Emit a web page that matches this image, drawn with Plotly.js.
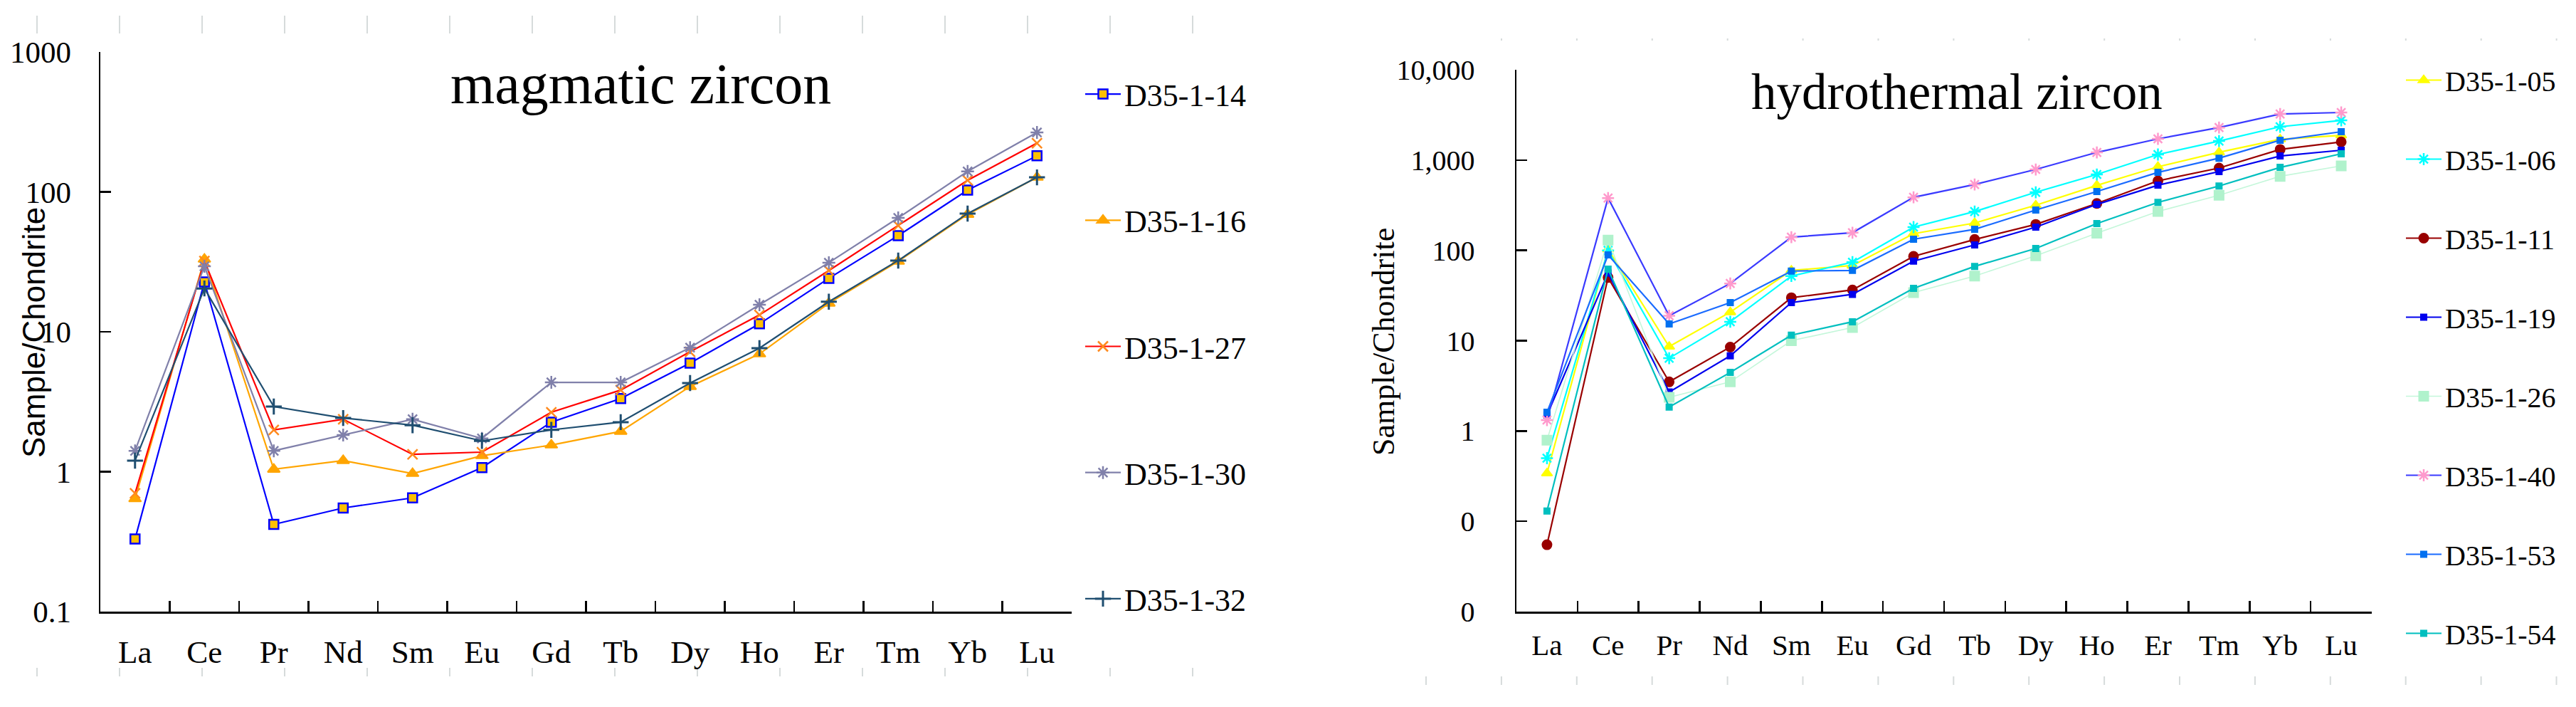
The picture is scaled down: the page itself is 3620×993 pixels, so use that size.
<!DOCTYPE html>
<html>
<head>
<meta charset="utf-8">
<script src="https://cdn.plot.ly/plotly-3.0.1.min.js"></script>
<style>
  html, body { margin: 0; padding: 0; background: #fff; }
  #chart { width: 3620px; height: 993px; }
</style>
</head>
<body>
<div id="chart"></div>
<script>
// chondrite normalised REE patterns, magmatic vs hydrothermal zircon

var ree = ["La", "Ce", "Pr", "Nd", "Sm", "Eu", "Gd", "Tb", "Dy", "Ho", "Er", "Tm", "Yb", "Lu"];

// magmatic zircon
var d35_1_14 = [0.33, 22.7, 0.42, 0.55, 0.65, 1.07, 2.26, 3.33, 5.97, 11.4, 24.1, 48.7, 103, 181];
var d35_1_16 = [0.64, 33, 1.04, 1.2, 0.97, 1.30, 1.55, 1.94, 4.06, 6.95, 16.0, 31.9, 69, 127];
var d35_1_27 = [0.70, 32, 1.99, 2.37, 1.33, 1.38, 2.66, 3.83, 7.2, 13.2, 27.4, 57.4, 121, 223];
var d35_1_30 = [1.41, 29.4, 1.41, 1.83, 2.37, 1.73, 4.35, 4.35, 7.7, 15.6, 31.2, 65.2, 140, 266];
var d35_1_32 = [1.2, 20.4, 2.92, 2.42, 2.15, 1.66, 1.99, 2.26, 4.3, 7.64, 16.4, 32.3, 70, 127];

// hydrothermal zircon
var d35_1_05 = [0.34, 103, 8.6, 20.7, 60, 68, 153, 201, 316, 525, 843, 1220, 1700, 1880];
var d35_1_06 = [0.50, 100, 6.4, 16.2, 52, 74, 181, 269, 440, 693, 1153, 1626, 2340, 2750];
var d35_1_11 = [0.055, 50, 3.5, 8.5, 29.9, 36.5, 86, 132, 194, 331, 589, 817, 1312, 1590];
var d35_1_19 = [1.5, 56, 2.7, 6.8, 26.4, 32.6, 76, 115, 181, 323, 527, 745, 1110, 1286];
var d35_1_26 = [0.79, 130, 2.36, 3.5, 10, 14, 34, 52, 87, 155, 270, 408, 661, 861];
var d35_1_40 = [1.32, 380, 18.9, 43, 140, 157, 387, 537, 787, 1216, 1718, 2290, 3240, 3365];
var d35_1_53 = [1.61, 89, 15.3, 26.4, 59, 60, 133, 171, 280, 449, 731, 1050, 1660, 2060];
var d35_1_54 = [0.13, 62, 1.84, 4.45, 11.5, 16.2, 38, 66.5, 105, 198, 340, 516, 830, 1175];

// tick labels
var leftTickVals = [0.1, 1, 10, 100, 1000];
var leftTickText = ["0.1", "1", "10", "100", "1000"];
var rightTickVals = [0.01, 0.1, 1, 10, 100, 1000, 10000];
var rightTickText = ["0", "0", "1", "10", "100", "1,000", "10,000"];

var W = 3620, H = 993;
var serif = "Liberation Serif";

function px(x) { return x / W; }
function py(y) { return (H - y) / H; }

function reeTrace(name, values, lineColor, symbol, markerColor, size, opts) {
  opts = opts || {};
  return {
    name: name,
    type: "scatter",
    mode: "lines+markers",
    x: ree,
    y: values,
    xaxis: opts.right ? "x2" : "x",
    yaxis: opts.right ? "y2" : "y",
    legend: opts.right ? "legend2" : "legend",
    legendgroup: name,
    line: {color: lineColor, width: opts.width || 2.2},
    marker: {
      symbol: symbol,
      size: size,
      color: markerColor,
      line: {color: opts.edge || markerColor, width: opts.edgeWidth || 2}
    },
    hoverinfo: "name+x+y"
  };
}

var traces = [
  reeTrace("D35-1-14", d35_1_14, "#0000FF", "square", "#FFC000", 13, {edge: "#0000FF", edgeWidth: 2.5}),
  reeTrace("D35-1-16", d35_1_16, "#FFA500", "triangle-up", "#FFA500", 15),
  reeTrace("D35-1-27", d35_1_27, "#FF0000", "x-thin-open", "#FF8A1E", 14, {edgeWidth: 2.5}),
  reeTrace("D35-1-30", d35_1_30, "#8080AA", "asterisk-open", "#8080AA", 15, {edgeWidth: 2.5}),
  reeTrace("D35-1-32", d35_1_32, "#1F4E70", "cross-thin-open", "#1F4E70", 16, {edgeWidth: 3}),

  reeTrace("D35-1-05", d35_1_05, "#FFFF00", "triangle-up", "#FFFF00", 13, {right: true}),
  reeTrace("D35-1-06", d35_1_06, "#00FFFF", "asterisk-open", "#00FFFF", 14, {right: true, edgeWidth: 2.5}),
  reeTrace("D35-1-11", d35_1_11, "#990000", "circle", "#990000", 13, {right: true}),
  reeTrace("D35-1-19", d35_1_19, "#0000EE", "square", "#0000EE", 8, {right: true}),
  reeTrace("D35-1-26", d35_1_26, "#C4F7DA", "square", "#B0F2CC", 13, {right: true, width: 1.6}),
  reeTrace("D35-1-40", d35_1_40, "#3A3AFF", "asterisk-open", "#FF99CC", 14, {right: true, edgeWidth: 2.5}),
  reeTrace("D35-1-53", d35_1_53, "#1A6BFF", "square", "#0070F0", 8, {right: true}),
  reeTrace("D35-1-54", d35_1_54, "#00BFBF", "square", "#00BFBF", 8, {right: true})
];

function catAxis(domain, anchor, size, standoff) {
  return {
    domain: domain,
    anchor: anchor,
    type: "category",
    range: [-0.5, 13.5],
    showgrid: false,
    zeroline: false,
    showline: true,
    linecolor: "#000",
    linewidth: 2.5,
    ticks: "inside",
    tickson: "boundaries",
    ticklen: 15,
    tickwidth: 2.5,
    tickcolor: "#000",
    ticklabelstandoff: standoff,
    tickfont: {family: serif, size: size, color: "#000"}
  };
}

function logAxis(domain, anchor, range, vals, text, size, standoff) {
  return {
    domain: domain,
    anchor: anchor,
    type: "log",
    range: range,
    showgrid: false,
    zeroline: false,
    showline: true,
    linecolor: "#000",
    linewidth: 2.5,
    ticks: "inside",
    ticklen: 15,
    tickwidth: 2.5,
    tickcolor: "#000",
    tickmode: "array",
    tickvals: vals,
    ticktext: text,
    ticklabelstandoff: standoff,
    tickfont: {family: serif, size: size, color: "#000"}
  };
}

// faint page ruler marks around the two panels
var shapes = [];
function ruler(x0, step, count, y0, y1, dash) {
  for (var i = 0; i < count; i++) {
    var x = x0 + i * step;
    shapes.push({
      type: "line", xref: "paper", yref: "paper",
      x0: px(x), x1: px(x), y0: py(y0), y1: py(y1),
      line: {color: "#D6DBDB", width: 2, dash: dash || "solid"},
      layer: "below"
    });
  }
}
ruler(52, 116, 15, 22, 47);
ruler(52, 116, 15, 938, 950);
ruler(2110, 105.9, 15, 54, 58, "dot");
ruler(2004, 105.9, 16, 950, 962);

var layout = {
  width: W,
  height: H,
  margin: {l: 0, r: 0, t: 0, b: 0},
  font: {family: serif, color: "#000"},
  paper_bgcolor: "#fff",
  plot_bgcolor: "rgba(0,0,0,0)",
  showlegend: true,
  xaxis: catAxis([px(141), px(1506)], "y", 45, 15),
  yaxis: logAxis([py(859), py(73)], "x", [-1, 3], leftTickVals, leftTickText, 43, 30),
  xaxis2: catAxis([px(2131), px(3333)], "y2", 41, 9),
  yaxis2: logAxis([py(859), py(98)], "x2", [-2, 4], rightTickVals, rightTickText, 40, 48),
  legend: {
    x: px(1520), y: py(97), xanchor: "left", yanchor: "top",
    traceorder: "grouped", tracegroupgap: 117, itemwidth: 50,
    bgcolor: "rgba(0,0,0,0)",
    font: {family: serif, size: 44, color: "#000"}
  },
  legend2: {
    x: px(3376), y: py(80), xanchor: "left", yanchor: "top",
    traceorder: "grouped", tracegroupgap: 56, itemwidth: 50,
    bgcolor: "rgba(0,0,0,0)",
    font: {family: serif, size: 40, color: "#000"}
  },
  shapes: shapes,
  annotations: [
    {text: "magmatic zircon", xref: "paper", yref: "paper", x: px(900), y: py(118),
     xanchor: "center", yanchor: "middle", showarrow: false,
     font: {family: serif, size: 80, color: "#000"}},
    {text: "hydrothermal zircon", xref: "paper", yref: "paper", x: px(2750), y: py(129),
     xanchor: "center", yanchor: "middle", showarrow: false,
     font: {family: serif, size: 71, color: "#000"}},
    {text: "Sample/Chondrite", xref: "paper", yref: "paper", x: px(47), y: py(467),
     xanchor: "center", yanchor: "middle", showarrow: false, textangle: -90,
     font: {family: "Liberation Sans", size: 44, color: "#000"}},
    {text: "Sample/Chondrite", xref: "paper", yref: "paper", x: px(1944), y: py(480),
     xanchor: "center", yanchor: "middle", showarrow: false, textangle: -90,
     font: {family: serif, size: 44, color: "#000"}}
  ]
};

Plotly.newPlot("chart", traces, layout, {staticPlot: true, displayModeBar: false});
</script>
</body>
</html>
